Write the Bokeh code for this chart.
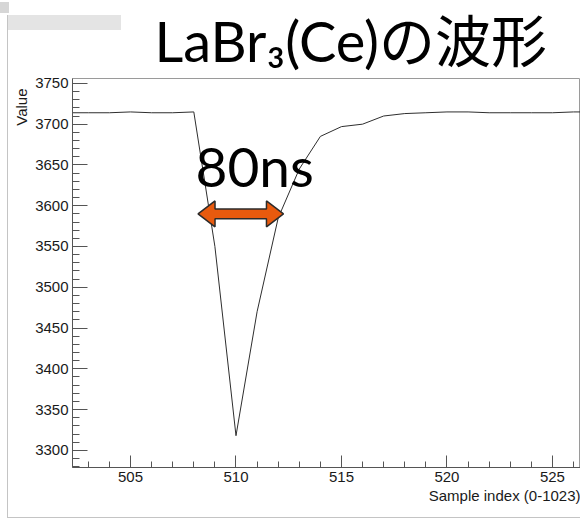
from bokeh.plotting import figure
from bokeh.models import Range1d, SingleIntervalTicker, Label, Title
from bokeh.embed import file_html
from bokeh.resources import INLINE

# ---- data ----
samples = list(range(502, 528))
values = [3714, 3714, 3714, 3715, 3714, 3714, 3715, 3550, 3318, 3470,
          3585, 3645, 3685, 3697, 3700, 3710, 3713, 3714, 3715, 3715,
          3714, 3714, 3714, 3714, 3715, 3715]
x_ticks_interval = 5
y_ticks_interval = 50
title_text = "LaBr\u2083(Ce)の波形"
annotation_text = "80ns"
arrow_start, arrow_end, arrow_level = 508.2, 512.25, 3590
x_label = "Sample index (0-1023)"
y_label = "Value"

# ---- layout ----
W, H = 580, 518
L, R, T, B = 72, 0, 77, 51
X0, X1 = 502.25, 526.33
Y0, Y1 = 3279.0, 3756.0
FW, FH = W - L - R, H - T - B


def dx(px):
    return X0 + (px - L) * (X1 - X0) / FW


def dy(py):
    return Y1 - (py - T) * (Y1 - Y0) / FH


G = "#c4c4c4"
border_css = {
    "background-image": ", ".join([
        f"linear-gradient({G},{G})",            # left window edge
        f"linear-gradient({G},{G})",            # bottom window edge
        "linear-gradient(#e4e4e4,#e4e4e4)",     # menu bar
        "linear-gradient(#d6d6d6,#d6d6d6)",     # window icon
    ]),
    "background-size": "1px 503px, 573px 1px, 113px 15px, 9px 11px",
    "background-position": "7px 15px, 7px 517px, 8px 15px, 0px 2px",
    "background-repeat": "no-repeat",
}

p = figure(width=W, height=H, output_backend="svg", toolbar_location=None,
           x_range=Range1d(X0, X1), y_range=Range1d(Y0, Y1),
           min_border_left=L, min_border_right=R, min_border_top=T,
           min_border_bottom=B, styles=border_css)
p.border_fill_color = None
p.background_fill_color = "white"
p.outline_line_color = "#9a9a9a"
p.grid.visible = False

FONT = "Liberation Sans"
for ax in (p.xaxis[0], p.yaxis[0]):
    ax.axis_line_color = "#555555"
    ax.major_tick_line_color = "#555555"
    ax.minor_tick_line_color = "#555555"
    ax.major_tick_out = 0
    ax.minor_tick_out = 0
    ax.major_label_text_font = FONT
    ax.major_label_text_font_size = "15px"
    ax.major_label_text_color = "#1a1a1a"
    ax.major_label_standoff = 4

p.xaxis[0].ticker = SingleIntervalTicker(interval=x_ticks_interval, num_minor_ticks=5)
p.yaxis[0].ticker = SingleIntervalTicker(interval=y_ticks_interval, num_minor_ticks=5)
p.xaxis[0].major_tick_in = 12
p.xaxis[0].minor_tick_in = 6
p.yaxis[0].major_tick_in = 15
p.yaxis[0].minor_tick_in = 7

# waveform
p.line(samples, values, line_color="#2e2e2e", line_width=1)

# double arrow (block style)
head_len = 17 * (X1 - X0) / FW
head_h = 13 * (Y1 - Y0) / FH
shaft_h = 5 * (Y1 - Y0) / FH
ax_pts = [arrow_start, arrow_start + head_len, arrow_start + head_len,
          arrow_end - head_len, arrow_end - head_len, arrow_end,
          arrow_end - head_len, arrow_end - head_len,
          arrow_start + head_len, arrow_start + head_len]
ay_pts = [arrow_level, arrow_level + head_h, arrow_level + shaft_h,
          arrow_level + shaft_h, arrow_level + head_h, arrow_level,
          arrow_level - head_h, arrow_level - shaft_h,
          arrow_level - shaft_h, arrow_level - head_h]
p.patch(ax_pts, ay_pts, fill_color="#E85A0E", line_color="#2b2b2b", line_width=1.5)

# 80ns text
p.add_layout(Label(x=dx(195), y=dy(165), text=annotation_text,
                   text_font="Lato", text_font_size="55px",
                   text_color="black", text_baseline="alphabetic"))

# title
p.add_layout(Title(text=title_text, align="left", offset=82,
                   text_font="Lato, Noto Sans CJK JP", text_font_size="56px",
                   text_font_style="normal", text_color="black", standoff=9),
             "above")

# axis titles
p.add_layout(Title(text=x_label, align="right", offset=0,
                   text_font=FONT, text_font_size="15px",
                   text_font_style="normal", text_color="#1a1a1a", standoff=0),
             "below")
p.add_layout(Title(text=y_label, align="right", offset=10,
                   text_font=FONT, text_font_size="15px",
                   text_font_style="normal", text_color="#1a1a1a", standoff=5),
             "left")

open("out.html", "w").write(file_html(p, INLINE))
